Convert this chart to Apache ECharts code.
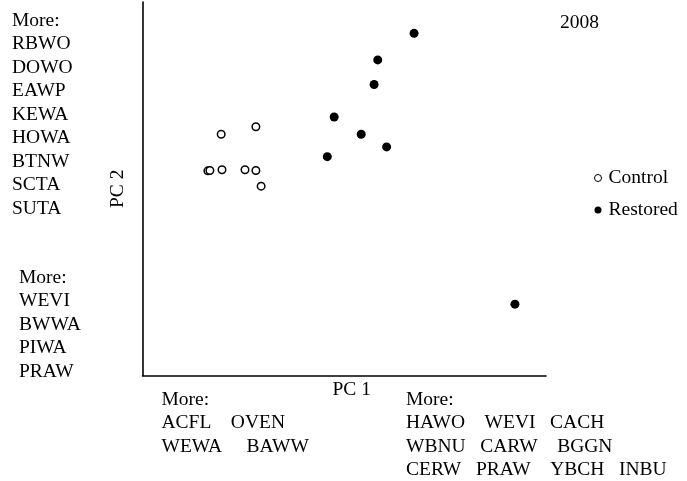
<!DOCTYPE html>
<html>
<head>
<meta charset="utf-8">
<script src="https://cdn.jsdelivr.net/npm/echarts@6/dist/echarts.min.js"></script>
<style>
  html, body { margin: 0; padding: 0; background: #fff; }
  #chart { width: 687px; height: 481px; }
</style>
</head>
<body>
<div id="chart"></div>
<script>
// PC scores (no tick labels, so arbitrary 0-100 units)
var controlPoints = [
  [19.5, 64.6], [28.1, 66.6], [16.2, 54.8], [16.7, 54.9],
  [19.7, 55.1], [25.4, 55.1], [28.1, 54.9], [29.4, 50.7]
];
var restoredPoints = [
  [67.3, 91.6], [58.3, 84.5], [57.4, 77.9], [47.5, 69.2],
  [54.2, 64.6], [60.5, 61.2], [45.8, 58.6], [92.3, 19.1]
];
var seriesNames = ['Control', 'Restored'];
var yearLabel = '2008';

// species lists along the axes
var moreTopLeft = ['More:', 'RBWO', 'DOWO', 'EAWP', 'KEWA', 'HOWA', 'BTNW', 'SCTA', 'SUTA'];
var moreBottomLeft = ['More:', 'WEVI', 'BWWA', 'PIWA', 'PRAW'];
var moreLeftBelow = ['More:', 'ACFL    OVEN', 'WEWA     BAWW'];
var moreRightBelow = ['More:', 'HAWO    WEVI   CACH', 'WBNU   CARW    BGGN', 'CERW   PRAW    YBCH   INBU'];

var font = '"Liberation Serif", "Times New Roman", serif';
var fs = 19.5;

function textBlock(lines, x, y) {
  return {
    type: 'text',
    left: x,
    top: y,
    style: {
      text: lines.join('\n'),
      font: fs + 'px ' + font,
      lineHeight: 23.5,
      fill: '#000'
    }
  };
}

var chart = echarts.init(document.getElementById('chart'));

var option = {
  animation: false,
  grid: { left: 142.5, right: 141, top: 2, bottom: 105.5 },
  xAxis: {
    type: 'value', min: 0, max: 100,
    name: 'PC 1', nameLocation: 'middle', nameGap: 4,
    nameTextStyle: { fontFamily: font, fontSize: fs, color: '#000', padding: [0, 0, 0, 15], verticalAlign: 'top' },
    axisLine: { show: true, onZero: false, lineStyle: { color: '#000', width: 1.6 } },
    axisTick: { show: false }, axisLabel: { show: false }, splitLine: { show: false }
  },
  yAxis: {
    type: 'value', min: 0, max: 100,
    name: 'PC 2', nameLocation: 'middle', nameGap: 15,
    nameTextStyle: { fontFamily: font, fontSize: fs, color: '#000' },
    axisLine: { show: true, onZero: false, lineStyle: { color: '#000', width: 1.6 } },
    axisTick: { show: false }, axisLabel: { show: false }, splitLine: { show: false }
  },
  legend: {
    orient: 'vertical',
    left: 589, top: 163,
    itemWidth: 7, itemHeight: 7, itemGap: 12,
    textStyle: { fontFamily: font, fontSize: fs, color: '#000', lineHeight: 20, padding: [0, 0, 0, 2] },
    data: [
      { name: seriesNames[0], icon: 'circle', itemStyle: { color: '#fff', borderColor: '#000', borderWidth: 1 } },
      { name: seriesNames[1], icon: 'circle', itemStyle: { color: '#000' } }
    ]
  },
  series: [
    {
      name: seriesNames[0], type: 'scatter', data: controlPoints,
      symbol: 'circle', symbolSize: 7.5,
      itemStyle: { color: '#fff', borderColor: '#000', borderWidth: 1.5, opacity: 1 }
    },
    {
      name: seriesNames[1], type: 'scatter', data: restoredPoints,
      symbol: 'circle', symbolSize: 9,
      itemStyle: { color: '#000', opacity: 1 }
    }
  ],
  graphic: [
    textBlock(moreTopLeft, 12, 9),
    textBlock(moreBottomLeft, 19, 266),
    textBlock(moreLeftBelow, 161.5, 388),
    textBlock(moreRightBelow, 406, 388),
    {
      type: 'text', left: 560, top: 13,
      style: { text: yearLabel, font: fs + 'px ' + font, fill: '#000' }
    }
  ]
};

chart.setOption(option);
</script>
</body>
</html>
